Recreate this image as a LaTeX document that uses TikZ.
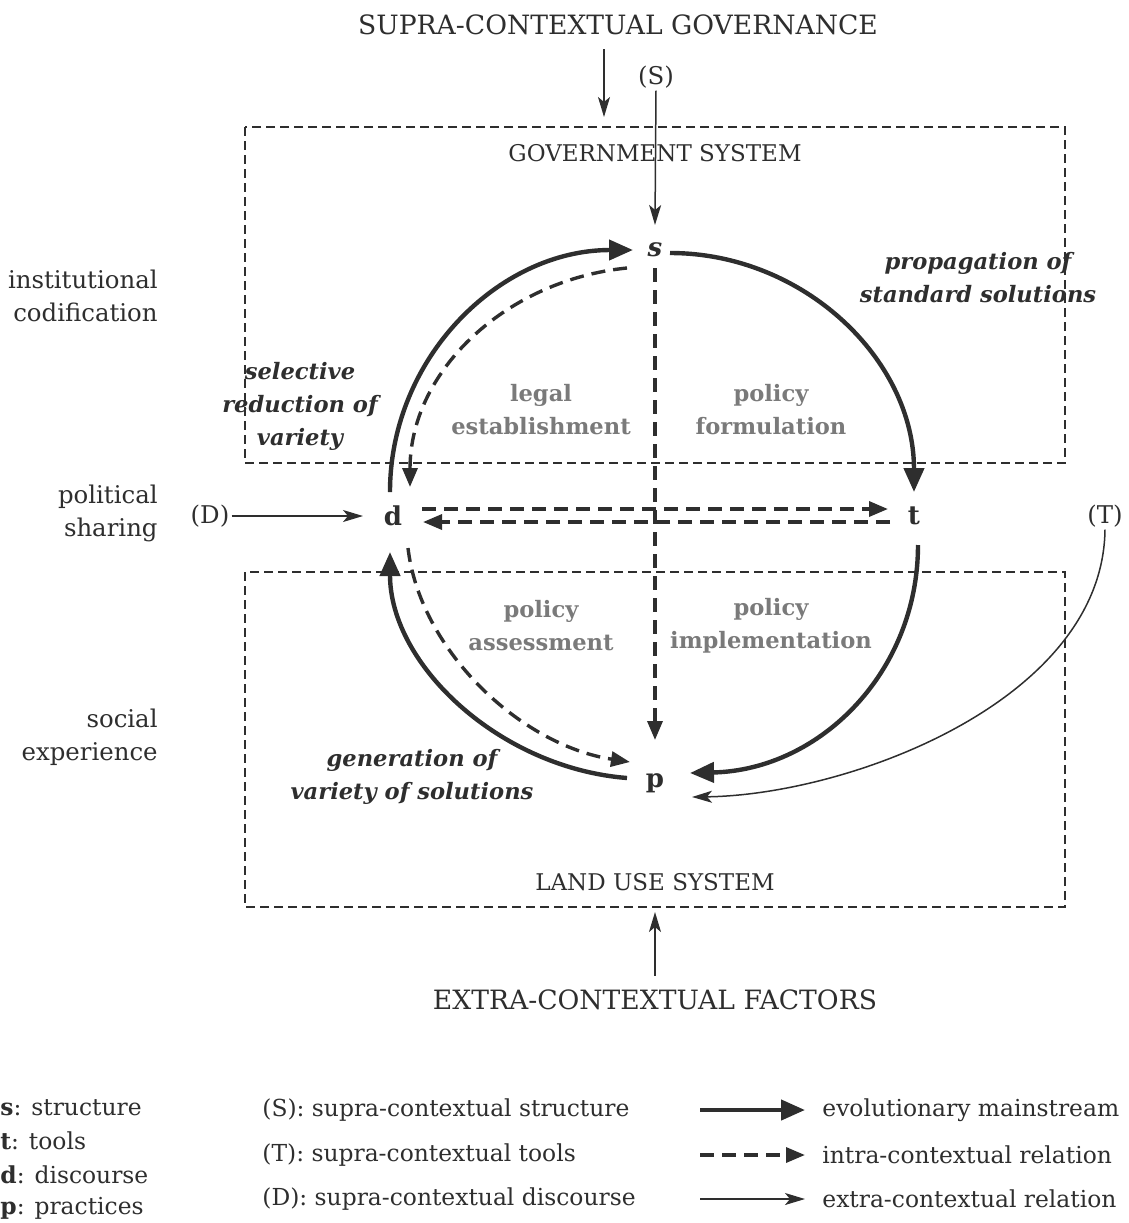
\documentclass[tikz,border=0pt]{standalone}
\usepackage{fontspec}
\setmainfont{DejaVu Serif}
\usetikzlibrary{arrows.meta,calc}
\definecolor{ink}{HTML}{2E2E2E}
\definecolor{lab}{HTML}{7A7A7A}
\begin{document}
\begin{tikzpicture}[x=0.5pt,y=-0.5pt,
  every node/.style={text=ink,font=\fontsize{12.2}{16.5}\selectfont,inner sep=1pt},
  big/.style={font=\fontsize{13.3}{16}\selectfont},
  sysl/.style={font=\fontsize{11.5}{14}\selectfont},
  sidel/.style={align=right,anchor=east},
  gl/.style={text=lab,font=\bfseries\fontsize{11.3}{16.5}\selectfont,align=center},
  il/.style={font=\bfseries\itshape\fontsize{11.3}{16.5}\selectfont,align=center},
  ltr/.style={font=\bfseries\fontsize{13}{15}\selectfont},
  leg/.style={anchor=west,inner sep=0pt,font=\fontsize{11.7}{14}\selectfont},
  box/.style={draw=ink,line width=0.75pt,dash pattern=on 4.5pt off 2.5pt},
  mainarr/.style={draw=ink,line width=2.2pt,-{Triangle[length=12pt,width=10pt]}},
  intraarr/.style={draw=ink,line width=1.7pt,dash pattern=on 7pt off 4pt,-{Triangle[length=9.5pt,width=7.5pt]}},
  extraarr/.style={draw=ink,line width=0.75pt,-{Stealth[length=10pt,width=6pt,inset=2.5pt]}},
]
\useasboundingbox (0,0) rectangle (1129,1223);

% boxes
\draw[box] (245,127) rectangle (1065,463);
\draw[box] (245,572) rectangle (1065,907);

% titles
\node[big] (sup) at (618,25) {SUPRA-CONTEXTUAL GOVERNANCE};
\node[big] (ext) at (655,1000) {EXTRA-CONTEXTUAL FACTORS};
\node[sysl] (gov) at (655,153) {GOVERNMENT SYSTEM};
\node[sysl] (land) at (655,882) {LAND USE SYSTEM};
\coordinate (gtop) at (604,117);
\coordinate (ltop) at (655,912);
\draw[extraarr] ($(sup.south)+(-14,12)$) -- (gtop);
\draw[extraarr] ($(ext.north)+(0,-12)$) -- (ltop);

% side labels
\node[sidel] (inst) at (160,296) {institutional\\codification};
\node[sidel] (pol) at (160,513) {political\\sharing};
\node[sidel] (soc) at (160,737) {social\\experience};

% main nodes
\node[font=\bfseries\itshape\fontsize{13}{15}\selectfont] (s) at (655,250) {s};
\node[ltr] (d) at (393,516) {d};
\node[ltr] (t) at (914,516) {t};
\node[ltr] (p) at (655,783) {p};

\node (S) at (656,77) {(S)};
\node (D) at (210,516) {(D)};
\node (T) at (1105,516) {(T)};

% quadrant labels
\node[gl] (le) at (541,410) {legal\\establishment};
\node[gl] (pf) at (771,410) {policy\\formulation};
\node[gl] (pa) at (541,626) {policy\\assessment};
\node[gl] (pi) at (771,626) {policy\\implementation};

\node[il] (prop) at (978,278) {propagation of\\standard solutions};
\node[il] (sel) at (300,406) {selective\\reduction of\\variety};
\node[il] (gen) at (412,777) {generation of\\variety of solutions};

% extra-contextual
\draw[extraarr] (S.south) -- ($(s)+(0,-25)$);
\draw[extraarr] (D.east) -- ($(d)+(-30,0)$);
\draw[extraarr] (T.south) .. controls (1103,700) and (850,795) .. ($(p)+(37,14)$);

% evolutionary mainstream
\draw[mainarr] ($(d)+(-3,-24)$) .. controls (390,358) and (499,250) .. ($(s)+(-22,0)$);
\draw[mainarr] ($(s)+(15,3)$) .. controls (804,253) and (914,360) .. ($(t)+(0,-24)$);
\draw[mainarr] ($(t)+(4,29)$) .. controls (918,672) and (820,770) .. ($(p)+(35,-10)$);
\draw[mainarr] ($(p)+(-28,-5)$) .. controls (500,768) and (390,665) .. ($(d)+(-3,36)$);

% intra-contextual
\draw[intraarr] ($(s)+(-28,18)$) .. controls (507,280) and (410,370) .. ($(d)+(17,-29)$);
\draw[intraarr] ($(d)+(15,32)$) .. controls (420,650) and (520,745) .. ($(p)+(-25,-21)$);
\draw[intraarr] ($(s)+(0,18)$) -- ($(p)+(0,-43)$);
\draw[intraarr] ($(d)+(29,-7)$) -- ($(t)+(-26,-7)$);
\draw[intraarr] ($(t)+(-24,6)$) -- ($(d)+(30,6)$);

% legend
\node[leg] (k1) at (0,1108) {\textbf{s}: structure};
\node[leg] (k2) at (0,1141) {\textbf{t}: tools};
\node[leg] (k3) at (0,1175) {\textbf{d}: discourse};
\node[leg] (k4) at (0,1208) {\textbf{p}: practices};
\node[leg] (m1) at (262,1110) {(S): supra-contextual structure};
\node[leg] (m2) at (262,1155) {(T): supra-contextual tools};
\node[leg] (m3) at (262,1199) {(D): supra-contextual discourse};
\node[leg] (r1) at (822,1110) {evolutionary mainstream};
\node[leg] (r2) at (822,1155) {intra-contextual relation};
\node[leg] (r3) at (822,1199) {extra-contextual relation};
\draw[mainarr] ($(r1.west)+(-122,0)$) -- ($(r1.west)+(-17,0)$);
\draw[intraarr] ($(r2.west)+(-122,0)$) -- ($(r2.west)+(-17,0)$);
\draw[extraarr] ($(r3.west)+(-122,0)$) -- ($(r3.west)+(-17,0)$);
\end{tikzpicture}
\end{document}
